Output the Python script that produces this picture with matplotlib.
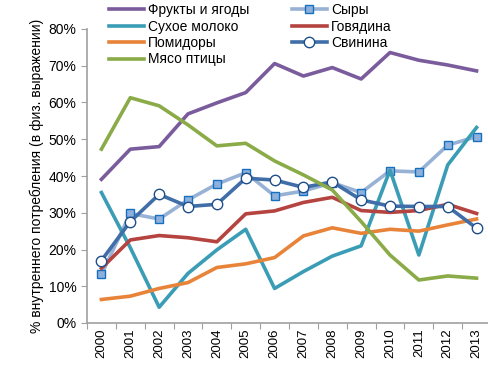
import matplotlib
matplotlib.use('Agg')
import matplotlib.pyplot as plt
from matplotlib.ticker import FixedLocator, PercentFormatter

plt.rcParams['font.family'] = ['Liberation Sans', 'DejaVu Sans']

years = [str(y) for y in range(2000, 2014)]

fruits = [39.1, 47.3, 48.0, 56.9, 59.9, 62.7, 70.6, 67.2, 69.5, 66.4, 73.6, 71.5, 70.2, 68.6]
cheese = [13.2, 29.8, 28.3, 33.5, 37.8, 40.9, 34.6, 35.9, 38.2, 35.5, 41.4, 41.1, 48.4, 50.7]
milk = [35.5, 20.5, 4.3, 13.5, 19.9, 25.5, 9.4, 14.0, 18.2, 21.0, 41.6, 18.5, 43.0, 53.2]
beef = [14.9, 22.6, 23.8, 23.2, 22.1, 29.7, 30.5, 32.8, 34.2, 30.6, 30.1, 30.6, 32.3, 29.8]
tomatoes = [6.4, 7.3, 9.4, 11.0, 15.1, 16.1, 17.8, 23.7, 25.9, 24.4, 25.5, 25.0, 26.7, 28.3]
pork = [17.0, 27.6, 35.0, 31.7, 32.3, 39.4, 38.9, 36.9, 38.4, 33.5, 31.8, 31.7, 31.7, 25.8]
poultry = [47.3, 61.3, 59.1, 53.9, 48.2, 48.9, 44.1, 40.3, 36.2, 27.6, 18.5, 11.7, 12.8, 12.2]

fig = plt.figure(figsize=(4.88, 3.68), dpi=100)
ax = fig.add_axes([87 / 488, 1 - 323 / 368, 404 / 488, 294 / 368])

x = list(range(len(years)))
lw = 2.6

h_fruits, = ax.plot(x, fruits, color='#7a5c9c', lw=lw, label='Фрукты и ягоды')
h_cheese, = ax.plot(x, cheese, color='#98b2d6', lw=lw, marker='s', ms=6,
                    mfc='#8db0dc', mec='#1570c0', mew=1.0, label='Сыры')
h_milk, = ax.plot(x, milk, color='#3a9db5', lw=lw, label='Сухое молоко')
h_beef, = ax.plot(x, beef, color='#b5433f', lw=lw, label='Говядина')
h_tom, = ax.plot(x, tomatoes, color='#e8843a', lw=lw, label='Помидоры')
h_pork, = ax.plot(x, pork, color='#3f6ea8', lw=lw, marker='o', ms=7.5,
                  mfc='white', mec='#1f4f8a', mew=1.0, label='Свинина')
h_poul, = ax.plot(x, poultry, color='#8aab48', lw=lw, label='Мясо птицы')

ax.set_xlim(-0.5, 13.5)
ax.set_ylim(0, 80)
ax.set_yticks(range(0, 81, 10))
ax.yaxis.set_major_formatter(PercentFormatter(decimals=0))

ax.xaxis.set_major_locator(FixedLocator([i - 0.5 for i in range(15)]))
ax.xaxis.set_minor_locator(FixedLocator(x))
ax.set_xticklabels([])
ax.set_xticklabels(years, minor=True, rotation=90)
ax.tick_params(axis='x', which='major', length=4, color='#a0a0a0')
ax.tick_params(axis='x', which='minor', length=0, labelsize=9.5, pad=4)
ax.tick_params(axis='y', length=4, color='#a0a0a0', labelsize=10)

for s in ['top', 'right']:
    ax.spines[s].set_visible(False)
for s in ['left', 'bottom']:
    ax.spines[s].set_color('#a0a0a0')
    ax.spines[s].set_linewidth(1.2)

ax.set_ylabel('% внутреннего потребления (в физ. выражении)', fontsize=10, labelpad=3)

handles = [h_fruits, h_milk, h_tom, h_poul, h_cheese, h_beef, h_pork]
fig.legend(handles=handles, labels=[h.get_label() for h in handles], ncol=2,
           loc='upper left', bbox_to_anchor=(101 / 488, 1 + 5 / 368), frameon=False,
           fontsize=10, handlelength=2.5, handletextpad=0.3, labelspacing=0.17,
           columnspacing=3.05, borderpad=0.1)

fig.savefig('out.png', dpi=100)
